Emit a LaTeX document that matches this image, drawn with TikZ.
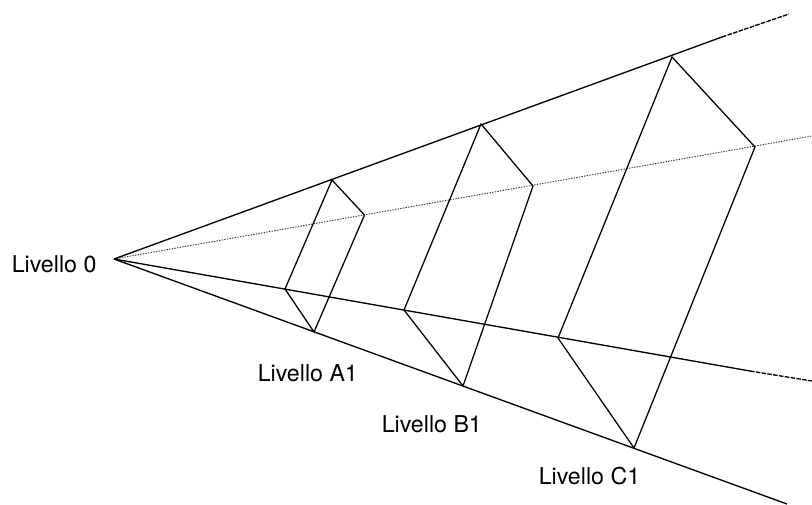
\documentclass[tikz,border=0pt]{standalone}
\usepackage{fontspec}
\setmainfont{TeX Gyre Heros}
\tikzset{
  x=0.75pt,y=-0.75pt,
  solidline/.style={draw=black,line width=1pt},
  thinsolid/.style={draw=black,line width=0.95pt},
  dottedline/.style={draw=black!80,line width=0.7pt,dash pattern=on 1pt off 1pt},
  dashline/.style={draw=black,line width=1pt,dash pattern=on 3.4pt off 1pt},
  lab/.style={inner sep=0pt,font=\fontsize{17.4pt}{19pt}\selectfont,anchor=base west}
}
\begin{document}
\begin{tikzpicture}
\useasboundingbox (0,0) rectangle (812,504);
\coordinate (O) at (114,259);
\coordinate (Tend) at (722,37);
\coordinate (Tfree) at (789,14);
\coordinate (Mfree) at (812,136);
\coordinate (Lend) at (750,371);
\coordinate (Lfree) at (812,381);
\coordinate (Bfree) at (787,504);
\coordinate (A1) at (332,180);
\coordinate (A2) at (364.5,215);
\coordinate (A3) at (314,332);
\coordinate (A4) at (285,289);
\coordinate (B1) at (481,124);
\coordinate (B2) at (533,186);
\coordinate (B3) at (463,386);
\coordinate (B4) at (404,310);
\coordinate (C1) at (672,57);
\coordinate (C2) at (755,147);
\coordinate (C3) at (634,448);
\coordinate (C4) at (558,338);
\draw[dottedline] (O) -- (Mfree);
\draw[solidline] (O) -- (Tend);
\draw[dashline] (Tend) -- (Tfree);
\draw[solidline] (O) -- (Lend);
\draw[dashline] (Lend) -- (Lfree);
\draw[solidline] (O) -- (Bfree);
\draw[thinsolid,line join=miter] (A1) -- (A2) -- (A3) -- (A4) -- cycle;
\draw[thinsolid,line join=miter] (B1) -- (B2) -- (B3) -- (B4) -- cycle;
\draw[thinsolid,line join=miter] (C1) -- (C2) -- (C3) -- (C4) -- cycle;
\node[lab] (l0) at (11.5,272) {Livello 0};
\node[lab] (la) at (257.5,381.5) {Livello A1};
\node[lab] (lb) at (381.5,432.5) {Livello B1};
\node[lab] (lc) at (538.5,484.5) {Livello C1};
\end{tikzpicture}
\end{document}
